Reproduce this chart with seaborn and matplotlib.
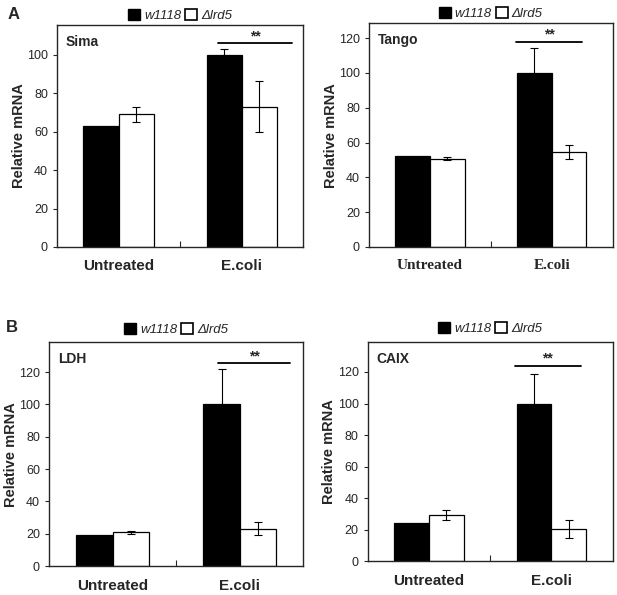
import pandas as pd
import seaborn as sns
import matplotlib.pyplot as plt
from matplotlib.patches import Patch

# values (relative mRNA, w1118 E.coli = 100)
conditions = ['Untreated', 'E.coli']
genotypes = ['w1118', 'Δlrd5']
genes = ['Sima', 'Tango', 'LDH', 'CAIX']

sima_w1118 = [63, 100]
sima_w1118_err = [0, 3]
sima_lrd5 = [69, 73]
sima_lrd5_err = [3.7, 13.3]

tango_w1118 = [52, 100]
tango_w1118_err = [0, 14.5]
tango_lrd5 = [50.8, 54.5]
tango_lrd5_err = [1.0, 3.8]

ldh_w1118 = [19.5, 100]
ldh_w1118_err = [0, 22]
ldh_lrd5 = [20.8, 23.2]
ldh_lrd5_err = [0.9, 4.0]

caix_w1118 = [24, 100]
caix_w1118_err = [0, 19]
caix_lrd5 = [29, 20.5]
caix_lrd5_err = [3.2, 5.6]

sns.set_style('ticks')
plt.rcParams['font.family'] = ['Liberation Sans', 'DejaVu Sans']

fig = plt.figure(figsize=(6.17, 5.95), dpi=100)

panels = [
    # gene, w, w_err, l, l_err, axes rect, ylim, yticks, sig y, sig x range, legend y
    ('Sima', sima_w1118, sima_w1118_err, sima_lrd5, sima_lrd5_err,
     [0.0924, 0.5849, 0.399, 0.373], 115.5, range(0, 101, 20), 106, (0.81, 1.41), 0.985),
    ('Tango', tango_w1118, tango_w1118_err, tango_lrd5, tango_lrd5_err,
     [0.598, 0.5849, 0.395, 0.376], 128.5, range(0, 121, 20), 118, (0.71, 1.25), 0.985),
    ('LDH', ldh_w1118, ldh_w1118_err, ldh_lrd5, ldh_lrd5_err,
     [0.0794, 0.0487, 0.412, 0.376], 138.5, range(0, 121, 20), 125.5, (0.83, 1.40), 1.0),
    ('CAIX', caix_w1118, caix_w1118_err, caix_lrd5, caix_lrd5_err,
     [0.596, 0.0571, 0.397, 0.368], 139, range(0, 121, 20), 124, (0.70, 1.24), 1.0),
]

for gene, w, w_err, l, l_err, rect, ytop, yticks, sig_y, sig_x, leg_y in panels:
    ax = fig.add_axes(rect)
    df = pd.DataFrame({
        'condition': conditions * 2,
        'genotype': [genotypes[0]] * 2 + [genotypes[1]] * 2,
        'value': w + l,
    })
    sns.barplot(data=df, x='condition', y='value', hue='genotype',
                order=conditions, hue_order=genotypes,
                palette=['black', 'white'], edgecolor='black', linewidth=0.9,
                width=0.57, errorbar=None, legend=False, ax=ax)

    # error bars at bar centres
    errs = w_err + l_err
    for bar, val, err in zip(ax.patches, w + l, errs):
        if err > 0:
            ax.errorbar(bar.get_x() + bar.get_width() / 2, val, yerr=err,
                        fmt='none', ecolor='black', elinewidth=0.8,
                        capsize=3, capthick=0.8)

    ax.set_xlim(-0.5, 1.5)
    ax.set_ylim(0, ytop)
    ax.set_yticks(list(yticks))
    ax.tick_params(axis='y', labelsize=9, length=3, width=0.8)
    ax.tick_params(axis='x', length=0, pad=9)
    ax.set_xticks([0.5], minor=True)
    ax.tick_params(axis='x', which='minor', direction='in', length=4, width=0.8)
    for s in ax.spines.values():
        s.set_visible(True)
        s.set_linewidth(1.0)
    ax.set_xlabel('')
    ax.set_ylabel('Relative mRNA', fontsize=10.5, fontweight='bold', labelpad=1)

    xfamily = ['Liberation Serif'] if gene == 'Tango' else ['Liberation Sans']
    ax.set_xticks([0, 1])
    ax.set_xticklabels(conditions, fontsize=11, fontweight='bold', family=xfamily)

    ax.text(0.035, 0.955, gene, transform=ax.transAxes, fontsize=10,
            fontweight='bold', va='top', ha='left')

    # significance bar
    ax.plot(list(sig_x), [sig_y, sig_y], color='black', lw=1.3)
    ax.text(sum(sig_x) / 2, sig_y, '**', ha='center', va='bottom',
            fontsize=10, fontweight='bold')

    handles = [Patch(facecolor='black', edgecolor='black'),
               Patch(facecolor='white', edgecolor='black', linewidth=1.2)]
    ax.legend(handles, ['w1118', 'Δlrd5'], loc='lower center',
              bbox_to_anchor=(0.5, leg_y), ncol=2, frameon=False,
              prop={'style': 'italic', 'size': 9.5}, handlelength=0.9,
              handleheight=0.9, handletextpad=0.3, columnspacing=0.3,
              borderpad=0.0)

fig.text(0.012, 0.975, 'A', fontsize=12, fontweight='bold', ha='left', va='center')
fig.text(0.01, 0.45, 'B', fontsize=12, fontweight='bold', ha='left', va='center')

fig.savefig('out.png', dpi=100)
